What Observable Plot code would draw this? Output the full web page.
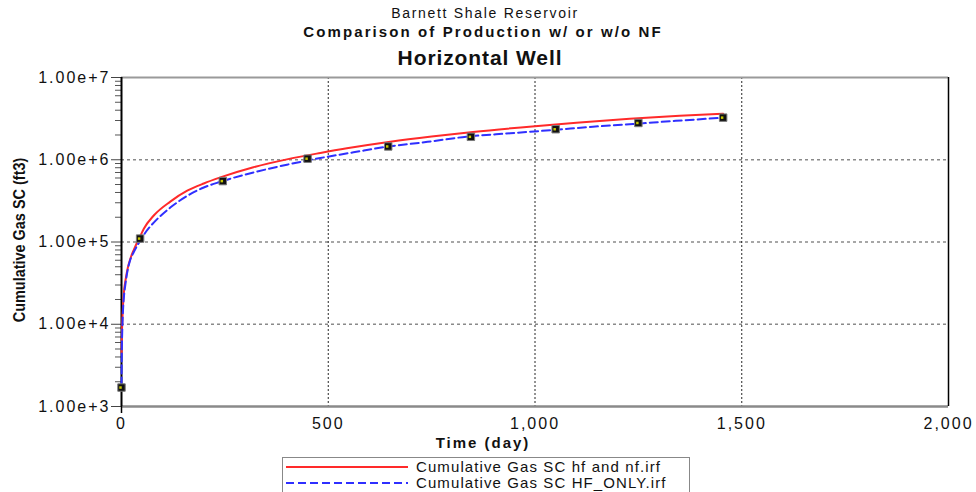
<!DOCTYPE html>
<html>
<head>
<meta charset="utf-8">
<script src="https://cdn.jsdelivr.net/npm/d3@7"></script>
<script src="https://cdn.jsdelivr.net/npm/@observablehq/plot@0.6"></script>
<style>
  html, body { margin: 0; padding: 0; background: #fff; }
  #wrap { position: relative; width: 976px; height: 492px; overflow: hidden; font-family: "Liberation Sans", Arial, sans-serif; color: #111; }
  #wrap svg.plot text { letter-spacing: 2px; }
  .t { position: absolute; left: 0; width: 976px; text-align: center; white-space: nowrap; }
  #ylab { position: absolute; left: 20px; top: 240px; transform: translate(-50%, -50%) rotate(-90deg) scaleX(0.85); white-space: nowrap;
          font-family: "Liberation Sans Narrow", "Arial Narrow", "Liberation Sans", sans-serif; font-weight: bold; font-size: 17px; color: #111; }
  #xlab { position: absolute; left: 483px; top: 442px; transform: translate(-50%, -50%); font-weight: bold; font-size: 15px; letter-spacing: 2px; white-space: nowrap; }
  #legend { position: absolute; left: 282px; top: 457px; width: 408px; height: 44px; border: 1px solid #888; box-sizing: border-box; background: #fff; }
  .lrow { position: absolute; left: 0; height: 16px; display: flex; align-items: center; }
  .lrow span { font-size: 15px; line-height: 16px; letter-spacing: 1.1px; margin-left: 6px; white-space: nowrap; }
</style>
</head>
<body>
<div id="wrap">
  <div id="chart"></div>
  <div class="t" style="top:5px;font-size:14px;letter-spacing:1.7px;left:-3px;">Barnett Shale Reservoir</div>
  <div class="t" style="top:23px;font-size:15px;font-weight:bold;letter-spacing:2.1px;left:-5px;">Comparison of Production w/ or w/o NF</div>
  <div class="t" style="top:46px;font-size:21px;font-weight:bold;letter-spacing:0.9px;left:-8px;">Horizontal Well</div>
  <div id="ylab">Cumulative Gas SC (ft3)</div>
  <div id="xlab">Time (day)</div>
  <div id="legend"></div>
</div>
<script>
// Series: cumulative gas, hf and nf (red, solid)
const redDays = [0.3, 0.5, 1, 2, 4, 6, 10, 15, 22, 30, 46, 54, 78, 118, 159, 199, 239, 319, 400, 481, 545, 650, 750, 850, 1000, 1100, 1229, 1350, 1455];
const redVals = [4.5e3, 5.5e3, 7.5e3, 1.1e4, 1.8e4, 2.5e4, 3.5e4, 4.8e4, 6.4e4, 8.1e4, 1.2e5, 1.45e5, 2.1e5, 3.1e5, 4.2e5, 5.15e5, 6.1e5, 8.1e5, 1.01e6, 1.21e6, 1.38e6, 1.66e6, 1.92e6, 2.18e6, 2.56e6, 2.82e6, 3.15e6, 3.42e6, 3.62e6];
// Series: cumulative gas, HF only (blue, dashed)
const blueDays = [0, 0.5, 1, 2, 4, 6, 10, 15, 20, 30, 46, 60, 78, 118, 159, 199, 239, 319, 400, 481, 561, 642, 740, 835, 940, 1044, 1140, 1237, 1340, 1455];
const blueVals = [1.8e3, 3.5e3, 5.5e3, 9e3, 1.6e4, 2.2e4, 3.2e4, 4.6e4, 5.8e4, 7.6e4, 1.05e5, 1.35e5, 1.72e5, 2.62e5, 3.64e5, 4.6e5, 5.4e5, 7.0e5, 8.7e5, 1.05e6, 1.23e6, 1.44e6, 1.65e6, 1.91e6, 2.1e6, 2.3e6, 2.52e6, 2.72e6, 2.97e6, 3.24e6];
// Square markers
const markerDays = [0, 45, 245, 450, 645, 845, 1050, 1250, 1455];
const markerVals = [1.7e3, 1.1e5, 5.5e5, 1.03e6, 1.45e6, 1.9e6, 2.35e6, 2.8e6, 3.25e6];
// Ticks
const xTicks = [0, 500, 1000, 1500, 2000];
const yTicks = [1e3, 1e4, 1e5, 1e6, 1e7];
const seriesNames = ["Cumulative Gas SC hf and nf.irf", "Cumulative Gas SC HF_ONLY.irf"];

const red = redDays.map((d, i) => ({x: d, y: redVals[i]}));
const blue = blueDays.map((d, i) => ({x: d, y: blueVals[i]}));
const markers = markerDays.map((d, i) => ({x: d, y: markerVals[i]}));
const minorTicks = [];
for (let e = 3; e < 7; e++) for (let m = 2; m <= 9; m++) minorTicks.push(m * Math.pow(10, e));

const RED = "#ff2a2a", BLUE = "#2f2fff";

const chart = Plot.plot({
  width: 976,
  height: 492,
  marginTop: 77,
  marginBottom: 86,
  marginLeft: 121,
  marginRight: 28,
  style: {fontFamily: "'Liberation Sans', Arial, sans-serif", fontSize: "16px", color: "#111", background: "transparent"},
  x: {domain: [0, 2000]},
  y: {type: "log", domain: [1e3, 1e7]},
  marks: [
    Plot.gridY([1e4, 1e5, 1e6], {stroke: "#8a8a8a", strokeOpacity: 1, strokeDasharray: "3,3", strokeWidth: 1.3}),
    Plot.gridX([500, 1000, 1500], {stroke: "#000", strokeOpacity: 0.85, strokeDasharray: "2,2"}),
    Plot.ruleY([1e7], {stroke: "#9a9a9a", strokeWidth: 2}),
    Plot.ruleY([1e3], {stroke: "#8a8a8a", strokeWidth: 2.5}),
    Plot.ruleX([2000], {stroke: "#000", strokeWidth: 1.5}),
    Plot.axisY(minorTicks, {tickSize: 6, tickFormat: () => "", stroke: "#555", label: null}),
    Plot.axisY(yTicks, {tickSize: 10, tickPadding: 1, tickFormat: d3.format(".2e"), stroke: "#444", label: null, fontSize: 16}),
    Plot.axisX([0], {tickSize: 7, tickFormat: () => "", stroke: "#000", strokeWidth: 1.5, label: null}),
    Plot.axisX(xTicks, {tickSize: 0, tickPadding: 11, tickFormat: d3.format(","), label: null, fontSize: 16}),
    Plot.ruleX([0], {stroke: "#000", strokeWidth: 2}),
    Plot.line(red, {x: "x", y: "y", stroke: RED, strokeWidth: 2, curve: "monotone-x"}),
    Plot.line(blue, {x: "x", y: "y", stroke: BLUE, strokeWidth: 2, strokeDasharray: "8,4", curve: "monotone-x"}),
    Plot.dot(markers, {x: "x", y: "y", symbol: "square", r: 4.2, fill: "#111", stroke: "#7a7a7a", strokeWidth: 1}),
    Plot.dot(markers, {x: "x", y: "y", symbol: "square", r: 1.4, fill: "#c8c800", dx: -1})
  ]
});
chart.classList.add("plot");
document.getElementById("chart").appendChild(chart);

// Legend
const legend = document.getElementById("legend");
[[RED, null], [BLUE, "8,4"]].forEach((s, i) => {
  const row = document.createElement("div");
  row.className = "lrow";
  row.style.top = (i === 0 ? 1 : 17) + "px";
  row.innerHTML = `<svg width="127" height="16"><line x1="3" x2="125" y1="8" y2="8" stroke="${s[0]}" stroke-width="2" ${s[1] ? `stroke-dasharray="${s[1]}"` : ""}/></svg><span>${seriesNames[i]}</span>`;
  legend.appendChild(row);
});
</script>
</body>
</html>
